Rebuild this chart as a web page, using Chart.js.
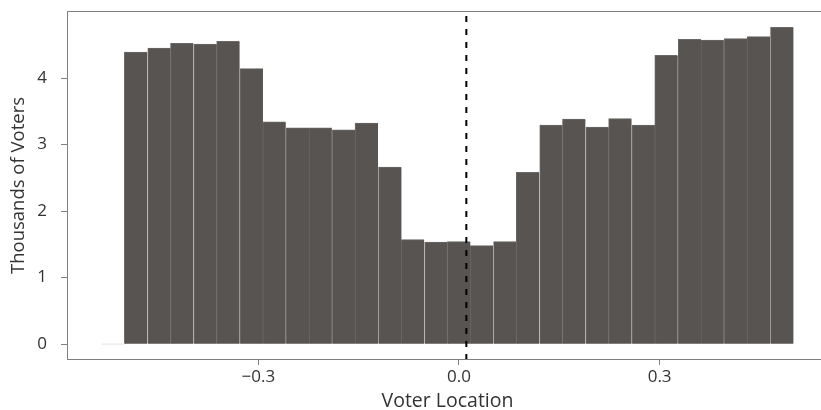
<!DOCTYPE html>
<html>
<head>
<meta charset="utf-8">
<script src="https://cdn.jsdelivr.net/npm/chart.js@4"></script>
<style>
  html, body { margin: 0; padding: 0; background: #fff; overflow: hidden; }
  #chart { display: block; }
</style>
</head>
<body>
<canvas id="chart" width="828" height="410"></canvas>
<script>
// histogram of voter locations, 30 bins (first one empty)
const binCenters = [
  -0.517, -0.483, -0.448, -0.414, -0.379, -0.345, -0.310, -0.276, -0.241, -0.207,
  -0.172, -0.138, -0.103, -0.069, -0.034,  0.000,  0.034,  0.069,  0.103,  0.138,
   0.172,  0.207,  0.241,  0.276,  0.310,  0.345,  0.379,  0.414,  0.448,  0.483,
];
const voters = [
  0.00, 4.39, 4.45, 4.52, 4.51, 4.55, 4.14, 3.34, 3.25, 3.25,
  3.22, 3.32, 2.66, 1.57, 1.53, 1.54, 1.48, 1.54, 2.58, 3.29,
  3.38, 3.26, 3.39, 3.29, 4.34, 4.58, 4.57, 4.59, 4.62, 4.76,
];
const meanLocation = 0.011;

const xTicks = [-0.3, 0.0, 0.3];
const xTickLabels = ["\u22120.3", "0.0", "0.3"];
const yTicks = [0, 1, 2, 3, 4];

const X_MIN = -0.586, X_MAX = 0.5517;
const Y_MIN = -0.2385, Y_MAX = 5.0085;

const FONT = "'Open Sans', 'Noto Sans', sans-serif";
const AXIS_GREY = "#7f7f7f";

const frame = {
  id: "frame",
  afterDatasetsDraw(chart) {
    const { ctx, chartArea: a } = chart;
    ctx.save();
    ctx.strokeStyle = AXIS_GREY;
    ctx.lineWidth = 1;
    ctx.strokeRect(Math.round(a.left) + 0.5, Math.round(a.top) + 0.5,
                   Math.round(a.right - a.left), Math.round(a.bottom - a.top) - 1);
    ctx.restore();
  },
};

new Chart(document.getElementById("chart"), {
  type: "bar",
  data: {
    datasets: [
      {
        type: "line",
        data: [{ x: meanLocation, y: Y_MIN }, { x: meanLocation, y: Y_MAX }],
        borderColor: "#000",
        borderWidth: 2,
        borderDash: [6, 7],
        pointRadius: 0,
        order: 0,
      },
      {
        data: binCenters.map((x, i) => ({ x, y: voters[i] })),
        backgroundColor: (c) => (c.raw && c.raw.y === 0 ? "#ececec" : "#575451"),
        borderColor: (c) => (c.raw && c.raw.y === 0 ? "#ececec" : "#6b6865"),
        borderWidth: { left: 1, right: 0, top: 1, bottom: 0 },
        borderSkipped: false,
        inflateAmount: 0.5,
        minBarLength: 1,
        barPercentage: 1,
        categoryPercentage: 1,
        order: 1,
      },
    ],
  },
  options: {
    responsive: false,
    animation: false,
    layout: { padding: { top: 11, left: 0, right: 0, bottom: 0 } },
    plugins: { legend: { display: false }, tooltip: { enabled: false } },
    scales: {
      x: {
        type: "linear",
        offset: false,
        min: X_MIN,
        max: X_MAX,
        afterBuildTicks: (s) => { s.ticks = xTicks.map((v) => ({ value: v })); },
        afterFit: (s) => { s.height = 50; s.paddingLeft = 0; s.paddingRight = 0; },
        ticks: {
          callback: (v) => xTickLabels[xTicks.findIndex((t) => Math.abs(t - v) < 1e-9)],
          font: { family: FONT, size: 17 },
          color: "#333",
          padding: 2,
          maxRotation: 0,
        },
        grid: { drawOnChartArea: false, offset: false, tickLength: 5, color: AXIS_GREY },
        border: { display: false },
        title: {
          display: true,
          text: "Voter Location",
          font: { family: FONT, size: 19.5 },
          color: "#333",
          padding: { top: 0, bottom: -3 },
        },
      },
      y: {
        min: Y_MIN,
        max: Y_MAX,
        afterBuildTicks: (s) => { s.ticks = yTicks.map((v) => ({ value: v })); },
        afterFit: (s) => { s.width = 67; s.paddingTop = 0; s.paddingBottom = 0; },
        ticks: {
          font: { family: FONT, size: 17 },
          color: "#333",
          padding: 14,
        },
        grid: { drawOnChartArea: false, tickLength: 6, color: AXIS_GREY },
        border: { display: false },
        title: {
          display: true,
          text: "Thousands of Voters",
          font: { family: FONT, size: 18.5 },
          color: "#333",
          padding: { top: 8, bottom: 0 },
        },
      },
    },
  },
  plugins: [frame],
});
</script>
</body>
</html>
